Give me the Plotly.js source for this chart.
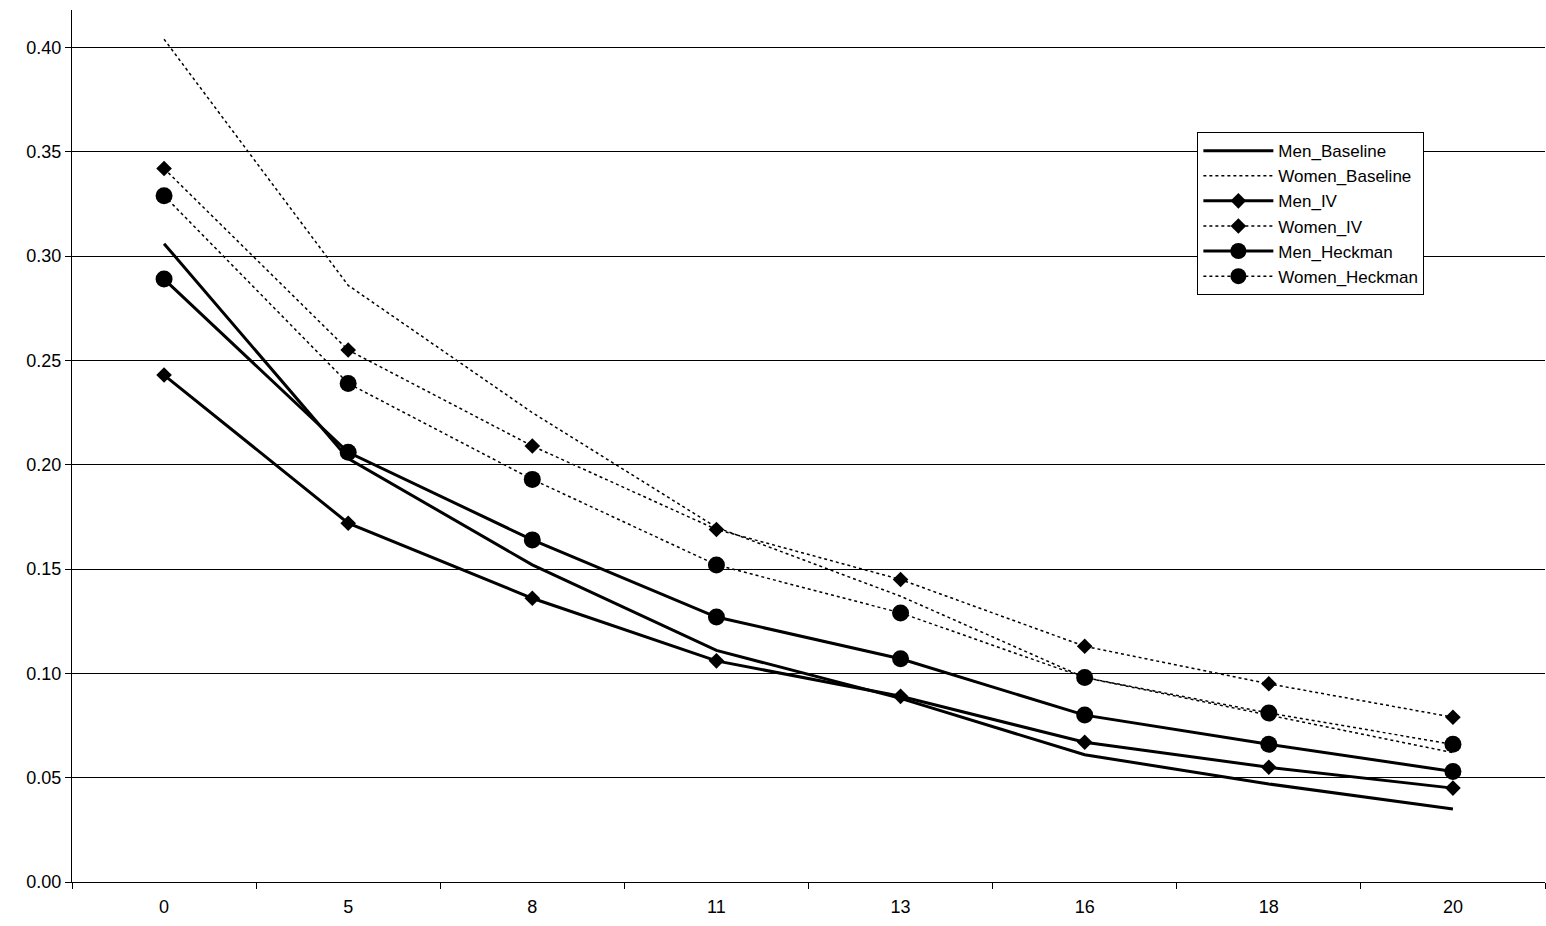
<!DOCTYPE html>
<html><head><meta charset="utf-8">
<script src="https://cdn.plot.ly/plotly-3.0.1.min.js"></script>
<style>body{margin:0}#chart{width:1546px;height:926px}</style>
</head><body><div id="chart"></div>
<script>
const categories = ["0", "5", "8", "11", "13", "16", "18", "20"];
const menBaseline = [0.306, 0.203, 0.152, 0.111, 0.088, 0.061, 0.047, 0.035];
const womenBaseline = [0.404, 0.286, 0.225, 0.170, 0.137, 0.098, 0.080, 0.062];
const menIV = [0.243, 0.172, 0.136, 0.106, 0.089, 0.067, 0.055, 0.045];
const womenIV = [0.342, 0.255, 0.209, 0.169, 0.145, 0.113, 0.095, 0.079];
const menHeckman = [0.289, 0.206, 0.164, 0.127, 0.107, 0.080, 0.066, 0.053];
const womenHeckman = [0.329, 0.239, 0.193, 0.152, 0.129, 0.098, 0.081, 0.066];

function series(name, y, dash, symbol, size) {
  return {
    name: name, x: categories, y: y, type: "scatter",
    mode: symbol ? "lines+markers" : "lines",
    line: { color: "#000", width: dash === "solid" ? 3 : 1.5, dash: dash },
    marker: { color: "#000", symbol: symbol || "circle", size: size || 0 }
  };
}

const data = [
  series("Men_Baseline", menBaseline, "solid"),
  series("Women_Baseline", womenBaseline, "dot"),
  series("Men_IV", menIV, "solid", "diamond", 12),
  series("Women_IV", womenIV, "dot", "diamond", 12),
  series("Men_Heckman", menHeckman, "solid", "circle", 17),
  series("Women_Heckman", womenHeckman, "dot", "circle", 17)
];

const layout = {
  width: 1546, height: 926,
  margin: { l: 72, r: 1, t: 10, b: 44 },
  font: { family: "Liberation Sans, Arial", size: 16, color: "#000" },
  paper_bgcolor: "#fff", plot_bgcolor: "#fff",
  showlegend: true,
  legend: {
    x: 0.764, y: 0.86, xanchor: "left", yanchor: "top",
    bordercolor: "#000", borderwidth: 1, bgcolor: "#fff",
    font: { size: 17 }, tracegroupgap: 0, itemwidth: 70
  },
  xaxis: {
    type: "category", showline: true, linecolor: "#000", linewidth: 1,
    tickson: "boundaries", ticks: "outside", ticklen: 6, tickcolor: "#000",
    tickfont: { size: 18 }, ticklabelstandoff: 8,
    showgrid: false, zeroline: false, range: [-0.5, 7.5]
  },
  yaxis: {
    range: [0, 0.418], dtick: 0.05, tickformat: ".2f",
    showline: true, linecolor: "#000", ticks: "outside", ticklen: 6, tickcolor: "#000",
    tickfont: { size: 18 },
    showgrid: true, gridcolor: "#000", gridwidth: 1, zeroline: false
  }
};

Plotly.newPlot("chart", data, layout, { displayModeBar: false });
</script></body></html>
